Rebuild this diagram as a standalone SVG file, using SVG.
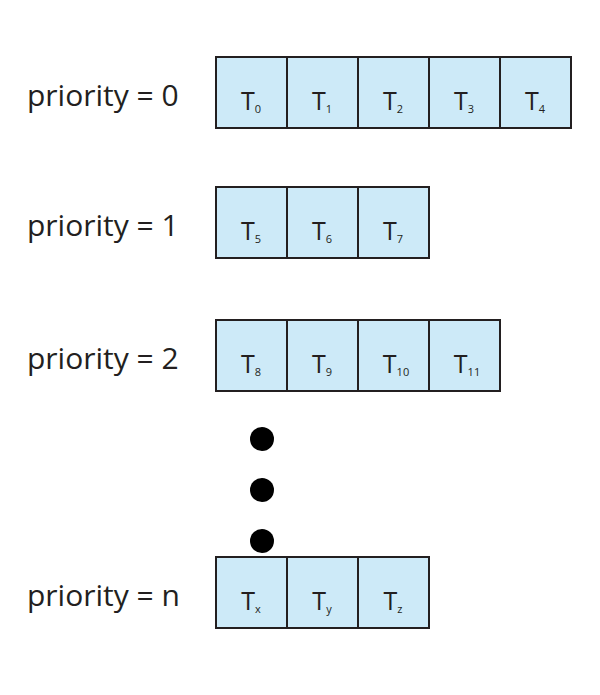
<svg xmlns="http://www.w3.org/2000/svg" width="600" height="695" viewBox="0 0 600 695">
<style>
.b{fill:#cdeaf8;stroke:#231f20;stroke-width:2}
.t{font-family:"Open Sans","Liberation Sans",sans-serif;font-size:25px;fill:#231f20;text-anchor:middle}
.s{font-size:11px}
.l{font-family:"Open Sans","Liberation Sans",sans-serif;font-size:30px;fill:#231f20}
</style>
<defs>
<g id="box"><rect class="b" x="0" y="0" width="71" height="71"/></g>
</defs>
<rect width="600" height="695" fill="#fff"/>
<g id="row0">
<text class="l" x="27" y="106">priority = 0</text>
<use href="#box" x="216" y="57"/><use href="#box" x="287" y="57"/><use href="#box" x="358" y="57"/><use href="#box" x="429" y="57"/><use href="#box" x="500" y="57"/>
<text class="t" x="251" y="110">T<tspan class="s" dy="3">0</tspan></text>
<text class="t" x="322" y="110">T<tspan class="s" dy="3">1</tspan></text>
<text class="t" x="393" y="110">T<tspan class="s" dy="3">2</tspan></text>
<text class="t" x="464" y="110">T<tspan class="s" dy="3">3</tspan></text>
<text class="t" x="535" y="110">T<tspan class="s" dy="3">4</tspan></text>
</g>
<g id="row1">
<text class="l" x="27" y="236">priority = 1</text>
<use href="#box" x="216" y="187"/><use href="#box" x="287" y="187"/><use href="#box" x="358" y="187"/>
<text class="t" x="251" y="240">T<tspan class="s" dy="3">5</tspan></text>
<text class="t" x="322" y="240">T<tspan class="s" dy="3">6</tspan></text>
<text class="t" x="393" y="240">T<tspan class="s" dy="3">7</tspan></text>
</g>
<g id="row2">
<text class="l" x="27" y="369">priority = 2</text>
<use href="#box" x="216" y="320"/><use href="#box" x="287" y="320"/><use href="#box" x="358" y="320"/><use href="#box" x="429" y="320"/>
<text class="t" x="251" y="373">T<tspan class="s" dy="3">8</tspan></text>
<text class="t" x="322" y="373">T<tspan class="s" dy="3">9</tspan></text>
<text class="t" x="396" y="373">T<tspan class="s" dy="3">10</tspan></text>
<text class="t" x="467" y="373">T<tspan class="s" dy="3">11</tspan></text>
</g>
<g id="dots" fill="#000">
<circle cx="262" cy="439" r="12"/><circle cx="262" cy="490" r="12"/><circle cx="262" cy="541" r="12"/>
</g>
<g id="rown">
<text class="l" x="27" y="606">priority = n</text>
<use href="#box" x="216" y="557"/><use href="#box" x="287" y="557"/><use href="#box" x="358" y="557"/>
<text class="t" x="251" y="610">T<tspan class="s" dy="3">x</tspan></text>
<text class="t" x="322" y="610">T<tspan class="s" dy="3">y</tspan></text>
<text class="t" x="393" y="610">T<tspan class="s" dy="3">z</tspan></text>
</g>
<g id="connectors"/>
</svg>
